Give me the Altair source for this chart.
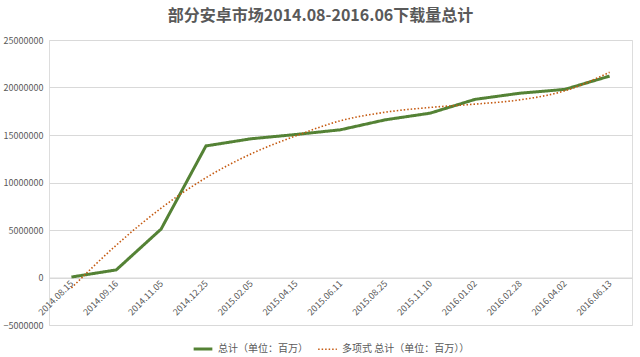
import altair as alt
import pandas as pd

dates = ["2014.08.15", "2014.09.16", "2014.11.05", "2014.12.25", "2015.02.05",
         "2015.04.15", "2015.06.11", "2015.08.25", "2015.11.10", "2016.01.02",
         "2016.02.28", "2016.04.02", "2016.06.13"]
total = [50000, 800000, 5100000, 13850000, 14600000, 15050000, 15550000,
         16600000, 17300000, 18750000, 19400000, 19800000, 21200000]
trend = [-1100000, 3400000, 7300000, 10500000, 13000000, 14900000, 16500000,
         17400000, 17900000, 18250000, 18700000, 19650000, 21600000]

s1 = "总计（单位：百万）"
s2 = "多项式 总计（单位：百万））"

df = pd.DataFrame({"date": dates * 2, "value": total + trend,
                   "series": [s1] * len(dates) + [s2] * len(dates)})

W, H = 583, 285
FONT = "Noto Sans CJK SC"
GRAY = "#595959"

x = alt.X("date:N", sort=dates, title=None,
          scale=alt.Scale(type="point", padding=0.5),
          axis=alt.Axis(labelAngle=-45, labelAlign="right", labelBaseline="middle",
                        labelFontSize=9, labelColor=GRAY, labelFont=FONT,
                        ticks=False, domainColor="#d9d9d9", offset=-H / 6,
                        labelPadding=4))
y = alt.Y("value:Q", title=None,
          scale=alt.Scale(domain=[-5000000, 25000000], nice=False),
          axis=alt.Axis(values=list(range(-5000000, 25000001, 5000000)), format="d",
                        labelFontSize=9, labelColor=GRAY, labelFont=FONT,
                        ticks=False, domain=False, gridColor="#d9d9d9",
                        labelPadding=6))

def leg():
    return alt.Legend(title=None, orient="none", direction="horizontal",
                      legendX=143, legendY=298, symbolType="stroke",
                      symbolSize=350, labelFontSize=10, labelColor=GRAY,
                      labelFont=FONT, columnPadding=6, labelLimit=300)

color = alt.Color("series:N", scale=alt.Scale(domain=[s1, s2], range=["#548235", "#C55A11"]),
                  legend=leg())
dash = alt.StrokeDash("series:N", scale=alt.Scale(domain=[s1, s2], range=[[1, 0], [1.5, 2]]),
                      legend=leg())
sw = alt.StrokeWidth("series:N", scale=alt.Scale(domain=[s1, s2], range=[3, 1.6]),
                     legend=leg())

base = alt.Chart(df)
green = base.transform_filter(alt.datum.series == s1).mark_line(interpolate="linear").encode(
    x=x, y=y, color=color, strokeDash=dash, strokeWidth=sw)
orange = base.transform_filter(alt.datum.series == s2).mark_line(interpolate="monotone").encode(
    x=x, y=y, color=color, strokeDash=dash, strokeWidth=sw)

chart = alt.layer(green, orange).properties(
    width=W, height=H,
    title=alt.TitleParams("部分安卓市场2014.08-2016.06下载量总计", font=FONT, fontSize=16,
                          fontWeight="bold", color=GRAY, anchor="middle", dx=-20, offset=12),
    autosize=alt.AutoSizeParams(type="none"),
    padding={"left": 49, "top": 40, "right": 8, "bottom": 32},
).configure_view(stroke=None).configure(background="white")

chart.save("out.html", embed_options={"renderer": "svg", "actions": False})
